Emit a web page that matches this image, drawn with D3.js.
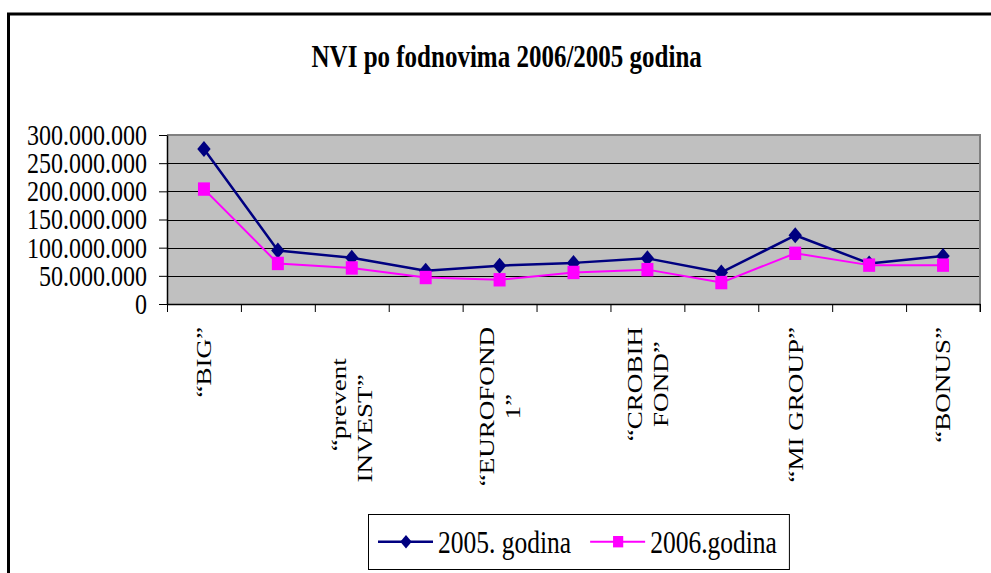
<!DOCTYPE html>
<html>
<head>
<meta charset="utf-8">
<script src="https://cdn.jsdelivr.net/npm/d3@7"></script>
<style>
  body { margin: 0; background: #fff; }
  text { font-family: "Liberation Serif", "Times New Roman", serif; fill: #000; }
</style>
</head>
<body>
<div id="chart"></div>
<script>
// fund labels (only every second one is shown on the axis), "\n" = line break
const categories = ["“BIG”", "", "“prevent\nINVEST”       ", "", "“EUROFOND\n1”", "",
                    "“CROBIH\nFOND”", "", "“MI GROUP”", "", "“BONUS”"];
const nvi2005 = [275000000, 95000000, 82000000, 59000000, 68000000, 73000000,
                 81000000, 56000000, 122000000, 72000000, 85000000];
const nvi2006 = [204000000, 72000000, 64000000, 47000000, 43000000, 56000000,
                 61000000, 38000000, 90000000, 69000000, 69000000];
const yTicks = [0, 50000000, 100000000, 150000000, 200000000, 250000000, 300000000];
const seriesNames = ["2005. godina", "2006.godina"];
const titleText = "NVI po fodnovima 2006/2005 godina";

const W = 991, H = 573;
const plot = { left: 167, right: 980, top: 135, bottom: 304 };
const SY = 1.23;   // text in the source is stretched vertically

const svg = d3.select("#chart").append("svg")
    .attr("width", W).attr("height", H);

// outer chart frame (runs off the right and bottom edge)
svg.append("rect")
    .attr("x", 8.5).attr("y", 14)
    .attr("width", 1100).attr("height", 700)
    .attr("fill", "none").attr("stroke", "#000").attr("stroke-width", 3);

svg.append("text")
    .attr("transform", `translate(506.7,66.7) scale(1,${SY})`)
    .attr("text-anchor", "middle")
    .style("font-size", "25px").style("font-weight", "bold")
    .text(titleText);

const y = d3.scaleLinear().domain([0, 300000000]).range([plot.bottom, plot.top]);
const xBand = d3.scaleBand().domain(d3.range(categories.length)).range([plot.left, plot.right]);
const xEdge = d3.scaleLinear().domain([0, categories.length]).range([plot.left, plot.right]);
const bw = xBand.bandwidth();
const cx = i => xBand(i) + bw / 2;

const loc = d3.formatLocale({ decimal: ",", thousands: ".", grouping: [3], currency: ["", ""] });
const fmt = loc.format(",d");

// plot background
svg.append("rect")
    .attr("x", plot.left).attr("y", plot.top)
    .attr("width", plot.right - plot.left).attr("height", plot.bottom - plot.top)
    .attr("fill", "#c0c0c0");

// gridlines
svg.append("g").selectAll("line")
    .data(yTicks.filter(d => d > 0 && d < 300000000))
    .join("line")
    .attr("x1", plot.left).attr("x2", plot.right)
    .attr("y1", d => Math.round(y(d)) + 0.5).attr("y2", d => Math.round(y(d)) + 0.5)
    .attr("stroke", "#000").attr("stroke-width", 1);

// grey border top + right
svg.append("path")
    .attr("d", `M${plot.left},${plot.top}H${plot.right}V${plot.bottom + 8}`)
    .attr("fill", "none").attr("stroke", "#808080").attr("stroke-width", 2);

// y axis
const yAxis = svg.append("g")
    .attr("transform", `translate(${plot.left},0)`)
    .call(d3.axisLeft(y).tickValues(yTicks).tickSize(8).tickSizeOuter(0).tickPadding(12).tickFormat(fmt));
yAxis.select(".domain").attr("stroke", "#000").attr("stroke-width", 1.5);
yAxis.selectAll(".tick line").attr("stroke", "#000");
yAxis.selectAll("text")
    .attr("font-family", null).attr("font-size", null)
    .style("font-size", "24px")
    .attr("transform", `scale(1,${SY})`);
yAxis.attr("font-family", null).attr("font-size", null);

// x axis, ticks between categories
const xAxis = svg.append("g")
    .attr("transform", `translate(0,${plot.bottom})`)
    .call(d3.axisBottom(xEdge).tickValues(d3.range(categories.length + 1))
        .tickSize(8).tickSizeOuter(0).tickFormat(""));
xAxis.select(".domain").attr("stroke", "#000").attr("stroke-width", 1.5);
xAxis.selectAll(".tick line").attr("stroke", "#000");

// rotated category labels
const fs = 22, lineGap = 26, capH = 0.662 * fs, labelTop = 327;
const labelG = svg.append("g");
categories.forEach((lab, i) => {
    if (!lab) return;
    const lines = lab.split("\n");
    const texts = lines.map(l => labelG.append("text")
        .attr("text-anchor", "middle")
        .style("font-size", fs + "px")
        .style("white-space", "pre")
        .text(l));
    const maxLen = d3.max(texts, t => t.node().getComputedTextLength()) * SY;
    const cy = labelTop + maxLen / 2;
    texts.forEach((t, k) => {
        const bx = cx(i) + (capH - (lines.length - 1) * lineGap) / 2 + k * lineGap;
        t.attr("transform", `translate(${bx},${cy}) scale(1,${SY}) rotate(-90)`);
    });
});

// series
const series = [
    { name: seriesNames[0], values: nvi2005, color: "#000080", width: 2.5, marker: "diamond" },
    { name: seriesNames[1], values: nvi2006, color: "#ff00ff", width: 2, marker: "square" }
];
const markerPath = (m, s) => m === "diamond"
    ? `M0,${-8 * s}L${6.7 * s},0L0,${8 * s}L${-6.7 * s},0Z`
    : `M${-6 * s},${-6.7 * s}H${6 * s}V${6.7 * s}H${-6 * s}Z`;

const line = d3.line().x((d, i) => cx(i)).y(d => y(d));
series.forEach(s => {
    const g = svg.append("g");
    g.append("path")
        .attr("d", line(s.values))
        .attr("fill", "none").attr("stroke", s.color).attr("stroke-width", s.width)
        .attr("stroke-linejoin", "round");
    g.selectAll("path.mk").data(s.values).join("path")
        .attr("class", "mk")
        .attr("transform", (d, i) => `translate(${cx(i)},${y(d)})`)
        .attr("d", markerPath(s.marker, 1))
        .attr("fill", s.color);
});

// legend
const lg = svg.append("g");
const lgBox = lg.append("rect")
    .attr("x", 368.5).attr("y", 514.5).attr("height", 55)
    .attr("fill", "#fff").attr("stroke", "#000").attr("stroke-width", 1);
let lx = 378;
series.forEach(s => {
    lg.append("line")
        .attr("x1", lx).attr("x2", lx + 55).attr("y1", 541.7).attr("y2", 541.7)
        .attr("stroke", s.color).attr("stroke-width", s.width);
    lg.append("path")
        .attr("transform", `translate(${lx + 28},541.7)`)
        .attr("d", markerPath(s.marker, 0.85))
        .attr("fill", s.color);
    const t = lg.append("text")
        .attr("transform", `translate(${lx + 60},553) scale(1,${SY})`)
        .style("font-size", "25.5px")
        .text(s.name);
    lx += 60 + t.node().getComputedTextLength() + 19;
});
lgBox.attr("width", lx - 19 + 12 - 368);
</script>
</body>
</html>
